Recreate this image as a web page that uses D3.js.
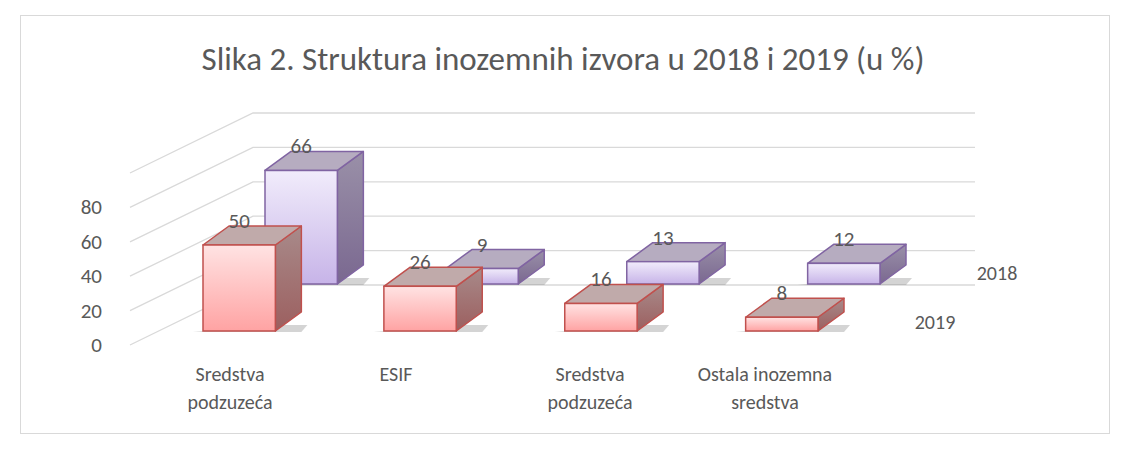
<!DOCTYPE html>
<html><head><meta charset="utf-8">
<script src="https://cdn.jsdelivr.net/npm/d3@7"></script>
<style>body{margin:0;background:#fff}text{font-family:Calibri,Carlito,"Liberation Sans","Open Sans",sans-serif;fill:#595959}</style>
</head><body><svg id="c" width="1132" height="455"></svg>
<script>
const categories = [["Sredstva","podzuzeća"],["ESIF"],["Sredstva","podzuzeća"],["Ostala inozemna","sredstva"]];
const series = ["2019","2018"];
const values2019 = [50,26,16,8];
const values2018 = [66,9,13,12];
const yTicks = [0,20,40,60,80];

const svg = d3.select("#c");
svg.append("rect").attr("x",20.5).attr("y",15.5).attr("width",1089).attr("height",418).attr("fill","#fff").attr("stroke","#d9d9d9");
svg.append("text").attr("x",563).attr("y",70).attr("text-anchor","middle").attr("font-size",33).text("Slika 2. Struktura inozemnih izvora u 2018 i 2019 (u %)");

const x = d3.scaleBand().domain(d3.range(4)).range([203,818]).paddingInner(0.6).paddingOuter(0);
const y = d3.scaleLinear().domain([0,100]).range([0,172]);
const rowDx = 62, rowDy = -47, depDx = 26, depDy = -19;
const base = 331;
const wallFront = {x:130,y:345}, wallBack = {x:253,y:285}, wallRight = 975;

const g = svg.append("g");
d3.range(0,101,20).forEach(v=>{
  const yb = wallBack.y - y(v), yf = wallFront.y - y(v);
  g.append("path").attr("d",`M${wallFront.x},${yf}L${wallBack.x},${yb}L${wallRight},${yb}`)
   .attr("fill","none").attr("stroke","#d9d9d9").attr("stroke-width",1.3);
});
yTicks.forEach(v=>{
  g.append("text").attr("x",102).attr("y",wallFront.y - y(v)+7).attr("text-anchor","end").attr("font-size",21).text(v);
});

const defs = svg.append("defs");
function grad(id,c1,c2){const lg=defs.append("linearGradient").attr("id",id).attr("x1",0).attr("y1",0).attr("x2",0).attr("y2",1);
 lg.append("stop").attr("offset","0%").attr("stop-color",c1);lg.append("stop").attr("offset","100%").attr("stop-color",c2);}
grad("f19","#ffe3e3","#ffa3a3"); grad("s19","#a88a8a","#9c5f5f");
grad("f18","#f1ecfb","#c7b4e8"); grad("s18","#9a90a8","#7a6890");
const styles = {
  "2019":{front:"url(#f19)",side:"url(#s19)",top:"#c0aaaa",stroke:"#c0504d"},
  "2018":{front:"url(#f18)",side:"url(#s18)",top:"#b6acc0",stroke:"#8064a2"}
};

function drawRow(vals,row,name){
  const st = styles[name];
  const ox = row*rowDx, oy = base + row*rowDy;
  const bg = svg.append("g");
  vals.forEach((v,i)=>{
    const x0 = x(i)+ox, x1 = x0 + x.bandwidth(), yb = oy, yt = oy - y(v);
    bg.append("path").attr("d",`M${x0-10},${yb+1}L${x1+depDx},${yb+1}L${x1+depDx+6},${yb-6}L${x1},${yb-6}Z`).attr("fill","#555").attr("opacity",0.25);
    bg.append("path").attr("d",`M${x1},${yt}L${x1+depDx},${yt+depDy}L${x1+depDx},${yb+depDy}L${x1},${yb}Z`).attr("fill",st.side).attr("stroke",st.stroke).attr("stroke-width",1.5).attr("stroke-linejoin","round");
    bg.append("path").attr("d",`M${x0},${yt}L${x0+depDx},${yt+depDy}L${x1+depDx},${yt+depDy}L${x1},${yt}Z`).attr("fill",st.top).attr("stroke",st.stroke).attr("stroke-width",1.5).attr("stroke-linejoin","round");
    bg.append("rect").attr("x",x0).attr("y",yt).attr("width",x.bandwidth()).attr("height",yb-yt).attr("fill",st.front).attr("stroke",st.stroke).attr("stroke-width",1.5);
    bg.append("text").attr("x",x0+x.bandwidth()/2).attr("y",yt+depDy+2).attr("text-anchor","middle").attr("font-size",21).text(v);
  });
}
drawRow(values2018,1,"2018");
drawRow(values2019,0,"2019");

svg.append("text").attr("x",997).attr("y",280).attr("text-anchor","middle").attr("font-size",20).text("2018");
svg.append("text").attr("x",935).attr("y",329).attr("text-anchor","middle").attr("font-size",20).text("2019");

const labX = [230,396,590,765];
categories.forEach((lines,i)=>{
  const t = svg.append("text").attr("x",labX[i]).attr("y",381).attr("text-anchor","middle").attr("font-size",20);
  lines.forEach((l,j)=>t.append("tspan").attr("x",labX[i]).attr("dy",j?28:0).text(l));
});
</script></body></html>
